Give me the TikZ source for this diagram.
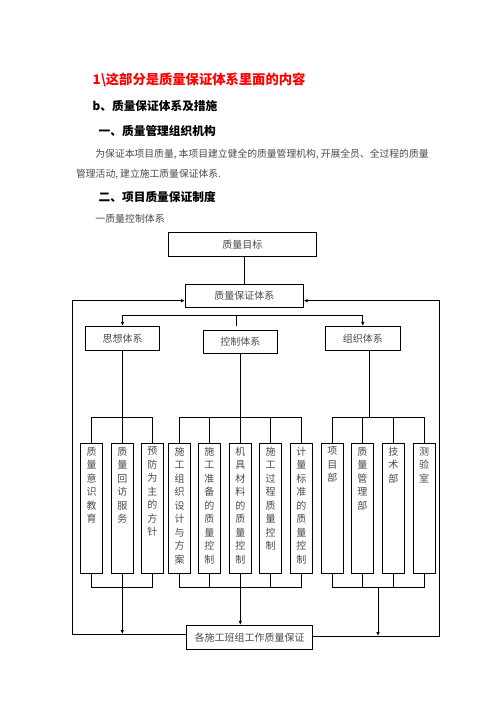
\documentclass[tikz,border=0pt]{standalone}
\usepackage{fontspec}
\setmainfont{Noto Sans CJK SC}
\usetikzlibrary{positioning,arrows.meta}
\definecolor{txtgray}{HTML}{4A4A4A}
\tikzset{
	box/.style={draw,line width=0.8pt,inner sep=0pt,text=txtgray,font=\fontsize{10}{12}\selectfont},
	col/.style={draw,line width=0.8pt,inner sep=0pt,minimum width=22,minimum height=130},
	coltxt/.style={inner sep=0pt,align=center,text=txtgray,font=\fontsize{10}{13.5}\selectfont},
	head/.style={anchor=west,inner sep=0pt,font=\bfseries\fontsize{11.7}{14}\selectfont},
	para/.style={anchor=west,inner sep=0pt,text=txtgray,font=\fontsize{9.8}{12}\selectfont},
	arr/.style={-{Latex[length=4pt,width=3.6pt]}}
}
\begin{document}
\begin{tikzpicture}[x=1pt,y=-1pt,line width=0.8pt]
	\useasboundingbox (0,0) rectangle (496,702);
	% Kopf
	\node[head,text=red,font=\bfseries\fontsize{13.3}{16}\selectfont] (titel) at (92.3,80) {1\textbackslash 这部分是质量保证体系里面的内容};
	\node[head] (hb) at (92.3,105.7) {b、质量保证体系及措施};
	\node[head] (h1) at (98.3,131) {一、质量管理组织机构};
	\node[para] (p1) at (95,154) {为保证本项目质量, 本项目建立健全的质量管理机构, 开展全员、全过程的质量};
	\node[para] (p2) at (75.7,174.3) {管理活动, 建立施工质量保证体系.};
	\node[head] (h2) at (98.3,196.7) {二、项目质量保证制度};
	\node[para,font=\fontsize{9.9}{12}\selectfont] (p3) at (95,218.3) {一质量控制体系};
	% Kaesten oben
	\node[box,minimum width=148,minimum height=24.4] (ziel) at (242.3,244.5) {质量目标};
	\node[box,minimum width=118,minimum height=22.7] (qs) at (244.3,295.7) {质量保证体系};
	\node[box,minimum width=73.6,minimum height=24] (sx) at (122.5,338.3) {思想体系};
	\node[box,minimum width=74,minimum height=22.7] (kz) at (240.3,341.7) {控制体系};
	\node[box,minimum width=75,minimum height=24] (zz) at (362.8,338.3) {组织体系};
	\node[box,minimum width=125.6,minimum height=24] (ende) at (249.5,637.3) {各施工班组工作质量保证};
	% Spalten
	\foreach \i/\x/\t in {1/91.5/{质\\量\\意\\识\\教\\育},2/122.3/{质\\量\\回\\访\\服\\务},3/152.3/{预\\防\\为\\主\\的\\方\\针},
		4/179.5/{施\\工\\组\\织\\设\\计\\与\\方\\案},5/209.3/{施\\工\\准\\备\\的\\质\\量\\控\\制},6/240.3/{机\\具\\材\\料\\的\\质\\量\\控\\制},
		7/270.7/{施\\工\\过\\程\\质\\量\\控\\制},8/301.3/{计\\量\\标\\准\\的\\质\\量\\控\\制},9/332.3/{项\\目\\部},
		10/362.3/{质\\量\\管\\理\\部},11/393.3/{技\\术\\部},12/424.2/{测\\验\\室}}{
		\node[col] (c\i) at (\x,508.3) {};
		\node[coltxt,below=3.7pt of c\i.north] (t\i) {\t};
	}
	% Verbindungen oben
	\draw (qs.north) -- (qs.north |- ziel.south);
	\coordinate (bus) at (236,315.7);
	\draw[arr] (bus) -| (sx.north);
	\draw[arr] (bus) -| (zz.north);
	\draw[shorten >=3.6pt] (bus) -- (bus |- kz.north);
	\def\ytop{417.3}
	\def\ybot{587.3}
	\draw (sx.south -| c2.north) -- (c2.north);
	\draw (c1.north) |- (c3.north |- 0,\ytop) -- (c3.north);
	\draw (kz.south -| c6.north) -- (c6.north |- 0,\ytop);
	\draw (c4.north) |- (c8.north |- 0,\ytop) -- (c8.north);
	\foreach \i in {5,6,7}
	\draw (c\i.north) -- (c\i.north |- 0,\ytop);
	\draw ([xshift=7pt]zz.south) -- ([xshift=7pt]zz.south |- 0,\ytop);
	\draw (c9.north) |- (c12.north |- 0,\ytop) -- (c12.north);
	\foreach \i in {10,11}
	\draw (c\i.north) -- (c\i.north |- 0,\ytop);
	% Verbindungen unten
	\draw (c1.south) |- (c3.south |- 0,\ybot) -- (c3.south);
	\draw[arr] (c2.south) -- (c2.south |- 0,634);
	\draw (c4.south) |- (c8.south |- 0,\ybot) -- (c8.south);
	\foreach \i in {5,7}
	\draw (c\i.south) -- (c\i.south |- 0,\ybot);
	\draw[arr] (c6.south) -- (c6.south |- ende.north);
	\draw (c9.south) |- (c12.south |- 0,\ybot) -- (c12.south);
	\foreach \i in {10,11}
	\draw (c\i.south) -- (c\i.south |- 0,\ybot);
	\coordinate (cb) at (378,\ybot);
	\draw[arr] (cb) -- (378,636);
	% Rueckfuehrung
	\coordinate (lo) at (72,300.7);
	\coordinate (ro) at (439.3,300.7);
	\draw[arr] ([yshift=3.3pt]ende.west) -| (lo) -- ([yshift=-5pt]qs.west);
	\draw[arr] ([yshift=1.3pt]ende.east) -| (ro) -- ([yshift=-5pt]qs.east);
\end{tikzpicture}
\end{document}
